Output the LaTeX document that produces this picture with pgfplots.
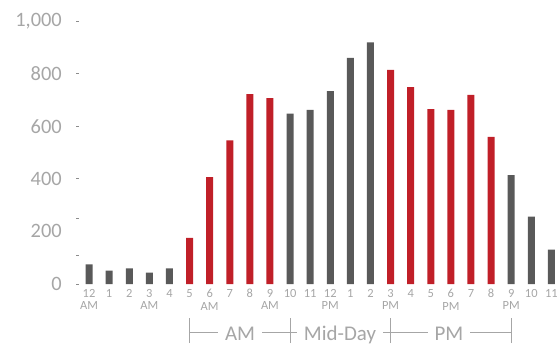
\documentclass[border=0pt]{standalone}
\usepackage{fontspec}
\setmainfont{Carlito}
\usepackage{pgfplots}
\pgfplotsset{compat=1.18}
\definecolor{bargray}{HTML}{595959}
\definecolor{barred}{HTML}{C01F28}
\definecolor{txtgray}{HTML}{A6A6A6}
\definecolor{tickgray}{HTML}{8C8C8C}
\begin{document}
\begin{tikzpicture}[x=1bp,y=1bp]
\begin{axis}[
  at={(79bp,62bp)}, anchor=south west,
  scale only axis, width=479bp, height=263bp,
  xmin=-0.5, xmax=23.33, ymin=0, ymax=1000,
  axis lines=left, axis line style={draw=none},
  xtick={0,...,23},
  xticklabels={{12\\AM},1,2,{3\\AM},4,5,{6\\AM},7,8,{9\\AM},10,11,{12\\PM},1,2,{3\\PM},4,5,{6\\PM},7,8,{9\\PM},10,11},
  x tick label style={align=center, font=\fontsize{12.5}{12.5}\selectfont, text=txtgray, anchor=north, inner sep=0pt, yshift=-5bp},
  major x tick style={draw=none},
  ytick={0,200,...,1000},
  y tick label style={font=\fontsize{20.5}{22}\selectfont, text=txtgray, anchor=east, inner sep=0pt, xshift=-17bp},
  major tick length=0pt,
  extra y ticks={0,110,250,400,600,800,1000},
  extra y tick labels={},
  extra y tick style={major tick length=3bp, tick align=outside, major tick style={draw=tickgray, line width=0.8bp}},
  /pgf/number format/assume math mode=true,
  /pgf/number format/1000 sep={,},
  clip=false,
  ybar, bar width=7bp,
]
\addplot[fill=bargray, draw=none, bar shift=0pt] coordinates {
(0,75) (1,51) (2,59) (3,43) (4,59)
(10,648) (11,662) (12,733) (13,860) (14,919)
(21,414) (22,256) (23,131)
};
\addplot[fill=barred, draw=none, bar shift=0pt] coordinates {
(5,175) (6,406) (7,546) (8,722) (9,707)
(15,814) (16,749) (17,665) (18,662) (19,719) (20,559)
};
\end{axis}
\begin{scope}[draw=txtgray, line width=0.8bp]
\draw (189.6,13.5) -- (511.2,13.5);
\foreach \xx in {189.6,290.1,390.6,511.2} {\draw (\xx,3) -- (\xx,28);}
\end{scope}
\begin{scope}[every node/.style={fill=white, inner xsep=7bp, inner ysep=0pt, anchor=base, text=txtgray, font=\fontsize{21}{22}\selectfont}]
\node at (240,5.2) {AM};
\node at (340,5.2) {Mid-Day};
\node at (449,5.2) {PM};
\end{scope}
\pgfresetboundingbox
\useasboundingbox (0,0) rectangle (558,346);
\end{tikzpicture}
\end{document}
